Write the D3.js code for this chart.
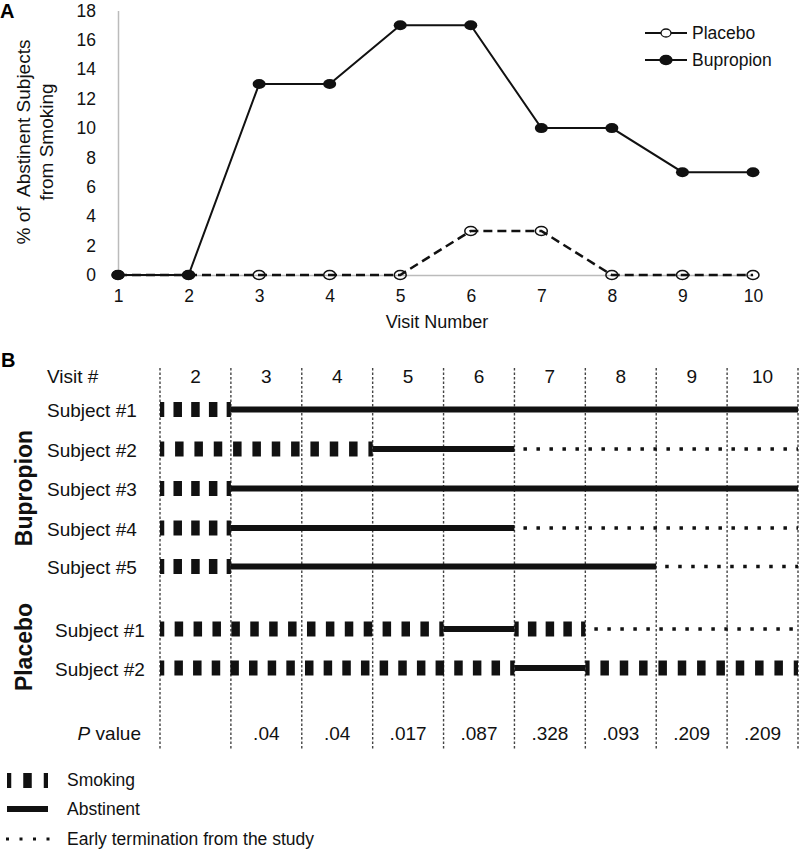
<!DOCTYPE html>
<html>
<head>
<meta charset="utf-8">
<script src="https://cdn.jsdelivr.net/npm/d3@7"></script>
<style>
  html, body { margin: 0; padding: 0; background: #fff; }
  svg { display: block; font-family: "Liberation Sans", Arial, sans-serif; }
</style>
</head>
<body>
<svg id="chart" width="800" height="849"></svg>
<script>
// ---------- Data ----------
const visits = [1, 2, 3, 4, 5, 6, 7, 8, 9, 10];
const placebo = [0, 0, 0, 0, 0, 3, 3, 0, 0, 0];
const bupropion = [0, 0, 13, 13, 17, 17, 10, 10, 7, 7];
const yTicks = [0, 2, 4, 6, 8, 10, 12, 14, 16, 18];

const visitColumns = [2, 3, 4, 5, 6, 7, 8, 9, 10];
const pValues = ["", ".04", ".04", ".017", ".087", ".328", ".093", ".209", ".209"];

// segments: [startVisit, endVisit(exclusive boundary), status]
const bupropionSubjects = [
  { label: "Subject #1", segs: [[2, 3, "S"], [3, 11, "A"]] },
  { label: "Subject #2", segs: [[2, 5, "S"], [5, 7, "A"], [7, 11, "E"]] },
  { label: "Subject #3", segs: [[2, 3, "S"], [3, 11, "A"]] },
  { label: "Subject #4", segs: [[2, 3, "S"], [3, 7, "A"], [7, 11, "E"]] },
  { label: "Subject #5", segs: [[2, 3, "S"], [3, 9, "A"], [9, 11, "E"]] }
];
const placeboSubjects = [
  { label: "Subject #1", segs: [[2, 6, "S"], [6, 7, "A"], [7, 8, "S"], [8, 11, "E"]] },
  { label: "Subject #2", segs: [[2, 7, "S"], [7, 8, "A"], [8, 11, "S"]] }
];
const legendItems = [
  { status: "S", text: "Smoking" },
  { status: "A", text: "Abstinent" },
  { status: "E", text: "Early termination from the study" }
];

const svg = d3.select("#chart");

// ---------- Panel A ----------
const xA = d3.scaleLinear().domain([1, 10]).range([118, 753]);
const yA = d3.scaleLinear().domain([0, 18]).range([275, 10.6]);

svg.append("text").attr("x", 0).attr("y", 18)
  .attr("font-size", 20).attr("font-weight", "bold").text("A");

const gy = svg.append("g").attr("transform", "translate(118,0)")
  .call(d3.axisLeft(yA).tickValues(yTicks).tickSize(0).tickPadding(22).tickFormat(d3.format("d")));
gy.select(".domain").attr("stroke", "#bbb").attr("stroke-width", 1.5);
gy.selectAll("text").attr("font-size", 17.5).attr("fill", "#111")
  .attr("font-family", "Liberation Sans, Arial, sans-serif");

const gx = svg.append("g").attr("transform", "translate(0,275)")
  .call(d3.axisBottom(xA).tickValues(visits).tickSize(0).tickPadding(15).tickFormat(d3.format("d")));
gx.select(".domain").attr("stroke", "#bbb").attr("stroke-width", 1.5);
gx.selectAll("text").attr("font-size", 17.5).attr("fill", "#111")
  .attr("font-family", "Liberation Sans, Arial, sans-serif");

svg.append("text").attr("x", 437).attr("y", 328).attr("text-anchor", "middle")
  .attr("font-size", 18).attr("fill", "#111").text("Visit Number");

svg.append("text").attr("transform", "translate(30,142) rotate(-90)")
  .attr("text-anchor", "middle").attr("font-size", 19).attr("fill", "#111")
  .attr("xml:space", "preserve").text("% of  Abstinent Subjects");
svg.append("text").attr("transform", "translate(53,142) rotate(-90)")
  .attr("text-anchor", "middle").attr("font-size", 19).attr("fill", "#111")
  .text("from Smoking");

const line = d3.line().x((d, i) => xA(visits[i])).y(d => yA(d));

svg.append("path").datum(placebo).attr("d", line)
  .attr("fill", "none").attr("stroke", "#111").attr("stroke-width", 2.5)
  .attr("stroke-dasharray", "9 5");
svg.append("path").datum(bupropion).attr("d", line)
  .attr("fill", "none").attr("stroke", "#111").attr("stroke-width", 2);

svg.selectAll(".mp").data(placebo).join("ellipse")
  .attr("cx", (d, i) => xA(visits[i])).attr("cy", d => yA(d))
  .attr("rx", 6).attr("ry", 4.5)
  .attr("fill", "none").attr("stroke", "#111").attr("stroke-width", 1.5);
svg.selectAll(".mb").data(bupropion).join("ellipse")
  .attr("cx", (d, i) => xA(visits[i])).attr("cy", d => yA(d))
  .attr("rx", 6.5).attr("ry", 5).attr("fill", "#111");

// legend A
const legA = [
  { name: "Placebo", filled: false, y: 33 },
  { name: "Bupropion", filled: true, y: 60 }
];
legA.forEach(l => {
  svg.append("line").attr("x1", 645).attr("x2", 687).attr("y1", l.y).attr("y2", l.y)
    .attr("stroke", "#111").attr("stroke-width", 2);
  svg.append("ellipse").attr("cx", 666).attr("cy", l.y)
    .attr("rx", l.filled ? 6 : 5).attr("ry", l.filled ? 4.5 : 4)
    .attr("fill", l.filled ? "#111" : "#fff").attr("stroke", "#111").attr("stroke-width", 1.3);
  svg.append("text").attr("x", 692).attr("y", l.y + 6)
    .attr("font-size", 17.5).attr("fill", "#111").text(l.name);
});

// ---------- Panel B ----------
const xB = d3.scaleLinear().domain([2, 11]).range([160, 798]);
svg.append("text").attr("x", 1).attr("y", 367)
  .attr("font-size", 20).attr("font-weight", "bold").text("B");

const headerY = 383;
svg.append("text").attr("x", 47).attr("y", headerY)
  .attr("font-size", 19).attr("fill", "#111").text("Visit #");
svg.selectAll(".vh").data(visitColumns).join("text")
  .attr("x", d => xB(d + 0.5)).attr("y", headerY).attr("text-anchor", "middle")
  .attr("font-size", 19).attr("fill", "#111").text(d => d);

// boundary dotted lines
svg.selectAll(".vb").data(d3.range(2, 12)).join("line")
  .attr("x1", d => xB(d)).attr("x2", d => xB(d))
  .attr("y1", 368).attr("y2", 750)
  .attr("stroke", "#444").attr("stroke-width", 1.4).attr("stroke-dasharray", "2.5 2");

function drawSeg(g, x0, x1, y, status) {
  if (status === "A") {
    g.append("line").attr("x1", x0).attr("x2", x1).attr("y1", y).attr("y2", y)
      .attr("stroke", "#111").attr("stroke-width", 6);
  } else if (status === "S") {
    const len = x1 - x0;
    const n = Math.max(1, Math.round(len / 19));
    const p = len / n;
    const w = 8.5;
    for (let i = 0; i <= n; i++) {
      const c = x0 + i * p;
      const a = Math.max(x0, c - w / 2), b = Math.min(x1, c + w / 2);
      g.append("rect").attr("x", a).attr("y", y - 7.5).attr("width", b - a).attr("height", 15)
        .attr("fill", "#111");
    }
  } else {
    g.append("line").attr("x1", x0 + 9).attr("x2", x1).attr("y1", y).attr("y2", y)
      .attr("stroke", "#111").attr("stroke-width", 3.5).attr("stroke-dasharray", "3.5 9.5");
  }
}

const bupRows = [409.5, 449, 488.5, 528, 566.5];
const plaRows = [629, 668];
const gRows = svg.append("g");
bupropionSubjects.forEach((s, i) => {
  const y = bupRows[i];
  svg.append("text").attr("x", 47).attr("y", y + 7.5)
    .attr("font-size", 19).attr("fill", "#111").text(s.label);
  s.segs.forEach(sg => drawSeg(gRows, xB(sg[0]), xB(sg[1]), y, sg[2]));
});
placeboSubjects.forEach((s, i) => {
  const y = plaRows[i];
  svg.append("text").attr("x", 55).attr("y", y + 7.5)
    .attr("font-size", 19).attr("fill", "#111").text(s.label);
  s.segs.forEach(sg => drawSeg(gRows, xB(sg[0]), xB(sg[1]), y, sg[2]));
});

svg.append("text").attr("transform", "translate(32,488) rotate(-90)")
  .attr("text-anchor", "middle").attr("font-size", 23).attr("font-weight", "bold")
  .attr("fill", "#111").text("Bupropion");
svg.append("text").attr("transform", "translate(32,647) rotate(-90)")
  .attr("text-anchor", "middle").attr("font-size", 23).attr("font-weight", "bold")
  .attr("fill", "#111").text("Placebo");

// P values
const pt = svg.append("text").attr("x", 141).attr("y", 740).attr("text-anchor", "end")
  .attr("font-size", 19).attr("fill", "#111");
pt.append("tspan").attr("font-style", "italic").text("P");
pt.append("tspan").text(" value");
svg.selectAll(".pv").data(visitColumns).join("text")
  .attr("x", d => xB(d + 0.5)).attr("y", 740).attr("text-anchor", "middle")
  .attr("font-size", 19).attr("fill", "#111").text((d, i) => pValues[i]);

// legend B
const legYs = [780.5, 809, 839];
legendItems.forEach((l, i) => {
  const y = legYs[i];
  if (l.status === "E") {
    svg.append("line").attr("x1", 6).attr("x2", 50).attr("y1", y).attr("y2", y)
      .attr("stroke", "#111").attr("stroke-width", 3).attr("stroke-dasharray", "3 10.5");
  } else {
    drawSeg(svg, 7, 48, y, l.status);
  }
  svg.append("text").attr("x", 67).attr("y", y + 5.5)
    .attr("font-size", 17.5).attr("fill", "#111").text(l.text);
});
</script>
</body>
</html>
